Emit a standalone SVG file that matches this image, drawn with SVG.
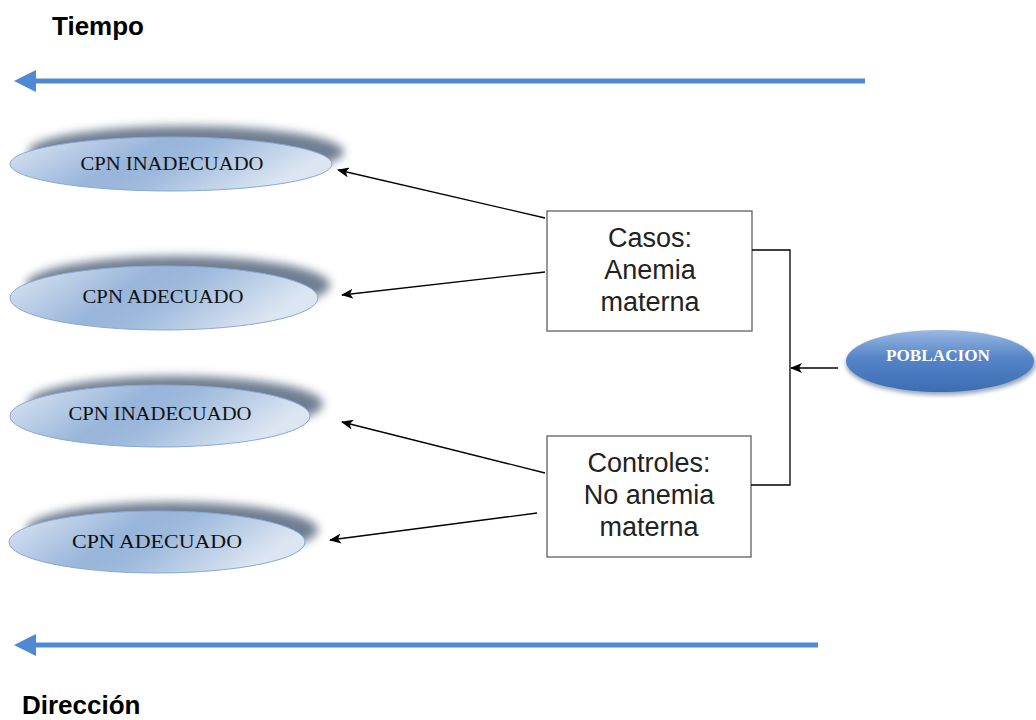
<svg xmlns="http://www.w3.org/2000/svg" width="1036" height="720" viewBox="0 0 1036 720">
<defs>
<linearGradient id="eg" x1="0" y1="0" x2="1" y2="0.3">
<stop offset="0" stop-color="#dfe8f4"/>
<stop offset="0.45" stop-color="#98b5da"/>
<stop offset="0.6" stop-color="#9db9dc"/>
<stop offset="1" stop-color="#dce6f2"/>
</linearGradient>
<linearGradient id="pg" x1="0" y1="0" x2="0" y2="1">
<stop offset="0" stop-color="#9ab8e2"/>
<stop offset="0.45" stop-color="#5585c8"/>
<stop offset="1" stop-color="#3d6cb2"/>
</linearGradient>
<filter id="blur" x="-20%" y="-50%" width="140%" height="200%"><feGaussianBlur stdDeviation="5"/></filter>
<filter id="pblur" x="-20%" y="-50%" width="140%" height="200%"><feGaussianBlur stdDeviation="2"/></filter>
<marker id="ah" markerWidth="12" markerHeight="10" refX="11" refY="5" orient="auto" markerUnits="userSpaceOnUse">
<path d="M0,0 L12,5 L0,10 L3,5 Z" fill="#000"/>
</marker>
</defs>
<style>
.lbl{font-family:"Liberation Sans",Arial,sans-serif;font-weight:bold;font-size:26px;fill:#000}
.el{fill:url(#eg);stroke:#8aa8d6;stroke-width:1}
.sh{fill:#56687f;opacity:0.85;filter:url(#blur)}
.et{font-family:"Liberation Serif","Times New Roman",serif;font-size:19px;fill:#111;text-anchor:middle}
.box{fill:#fff;stroke:#606060;stroke-width:1.3}
.bt{font-family:"Liberation Sans",Arial,sans-serif;font-size:27px;fill:#222;text-anchor:middle}
.con{stroke:#000;stroke-width:1.3;fill:none}
.tl{stroke:#5089d3;stroke-width:5;fill:none}
</style>
<g id="tiempo">
<text class="lbl" x="52" y="35">Tiempo</text>
<line class="tl" x1="865" y1="81" x2="32" y2="81"/>
<path d="M14,81 L36,70 L36,92 Z" fill="#5089d3"/>
</g>
<g id="direccion">
<line class="tl" x1="818" y1="645" x2="32" y2="645"/>
<path d="M14,645 L36,634 L36,656 Z" fill="#5089d3"/>
<text class="lbl" x="22" y="714">Dirección</text>
</g>
<g id="e1">
<ellipse class="sh" cx="186" cy="152" rx="158" ry="26"/>
<ellipse class="el" cx="171" cy="164" rx="161" ry="27"/>
<text class="et" x="172" y="170" textLength="183" lengthAdjust="spacingAndGlyphs">CPN INADECUADO</text>
</g>
<g id="e2">
<ellipse class="sh" cx="178" cy="285" rx="152" ry="29"/>
<ellipse class="el" cx="164" cy="298" rx="154" ry="32"/>
<text class="et" x="163" y="303" textLength="161" lengthAdjust="spacingAndGlyphs">CPN ADECUADO</text>
</g>
<g id="e3">
<ellipse class="sh" cx="175" cy="404" rx="148" ry="28"/>
<ellipse class="el" cx="160" cy="416" rx="150" ry="31"/>
<text class="et" x="160" y="420" textLength="183" lengthAdjust="spacingAndGlyphs">CPN INADECUADO</text>
</g>
<g id="e4">
<ellipse class="sh" cx="172" cy="530" rx="146" ry="28"/>
<ellipse class="el" cx="157" cy="542" rx="148" ry="31"/>
<text class="et" x="157" y="548" textLength="170" lengthAdjust="spacingAndGlyphs">CPN ADECUADO</text>
</g>
<g id="casos">
<rect class="box" x="547" y="211" width="205" height="120"/>
<text class="bt" x="650" y="247">Casos:</text>
<text class="bt" x="650" y="279">Anemia</text>
<text class="bt" x="650" y="311">materna</text>
</g>
<g id="controles">
<rect class="box" x="547" y="436" width="204" height="121"/>
<text class="bt" x="649" y="472">Controles:</text>
<text class="bt" x="649" y="504">No anemia</text>
<text class="bt" x="649" y="536">materna</text>
</g>
<g id="poblacion">
<ellipse cx="941" cy="364" rx="95" ry="31" fill="#2f4f7a" opacity="0.5" filter="url(#pblur)"/>
<ellipse cx="940" cy="361" rx="94" ry="31" fill="url(#pg)"/>
<text x="938" y="361" font-family="'Liberation Serif','Times New Roman',serif" font-weight="bold" font-size="16" fill="#fff" text-anchor="middle" textLength="104" lengthAdjust="spacingAndGlyphs">POBLACION</text>
</g>
<g id="connectors">
<line class="con" x1="545" y1="218" x2="338" y2="170" marker-end="url(#ah)"/>
<line class="con" x1="545" y1="272" x2="342" y2="295" marker-end="url(#ah)"/>
<line class="con" x1="545" y1="473" x2="342" y2="422" marker-end="url(#ah)"/>
<line class="con" x1="537" y1="513" x2="330" y2="540" marker-end="url(#ah)"/>
<polyline class="con" points="752,250 790,250 790,485 751,485"/>
<line class="con" x1="838" y1="368" x2="791" y2="368" marker-end="url(#ah)"/>
</g>
</svg>
